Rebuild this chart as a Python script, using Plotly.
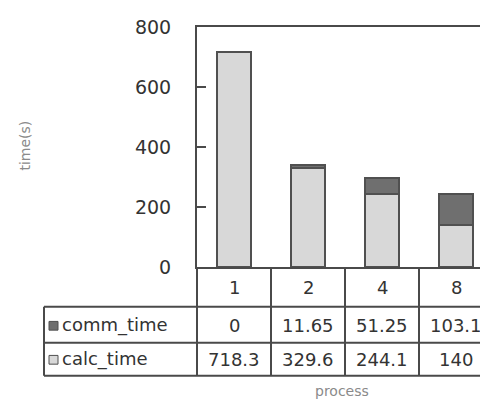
import plotly.graph_objects as go

categories = ["1", "2", "4", "8"]
comm_time = [0, 11.65, 51.25, 103.1]
calc_time = [718.3, 329.6, 244.1, 140]
comm_labels = ["0", "11.65", "51.25", "103.1"]
calc_labels = ["718.3", "329.6", "244.1", "140"]
y_ticks = [0, 200, 400, 600, 800]

W_FIG, H_FIG = 488, 406
OFF = 8  # page body margin
L, T, PW, PH = 197, 20, 291, 247
COLW = 74.0

def px(x):
    return (x - L) / PW

def py(y):
    return (T + PH - y) / PH

LINE = "#4a4a4a"
FONT = "DejaVu Sans"

fig = go.Figure()
fig.add_trace(go.Bar(x=categories, y=calc_time, name="calc_time", width=0.45,
                     marker=dict(color="#d8d8d8", line=dict(color="#505050", width=2))))
fig.add_trace(go.Bar(x=categories, y=comm_time, name="comm_time", width=0.45,
                     marker=dict(color="#6f6f6f", line=dict(color="#505050", width=2))))

shapes = []
rows_y = [308, 345, 379]
for yy in rows_y:
    shapes.append(dict(type="line", xref="paper", yref="paper", x0=px(44), x1=1.1,
                       y0=py(yy), y1=py(yy), line=dict(color=LINE, width=2)))
shapes.append(dict(type="line", xref="paper", yref="paper", x0=0, x1=0,
                   y0=py(267), y1=py(379), line=dict(color=LINE, width=2)))
shapes.append(dict(type="line", xref="paper", yref="paper", x0=px(44), x1=px(44),
                   y0=py(308), y1=py(379), line=dict(color=LINE, width=2)))
for i in range(1, len(categories) + 1):
    shapes.append(dict(type="line", xref="x", yref="paper", x0=i - 0.5, x1=i - 0.5,
                       y0=py(267), y1=py(379), line=dict(color=LINE, width=2)))
shapes.append(dict(type="rect", xref="paper", yref="paper", x0=px(49), x1=px(58),
                   y0=py(332), y1=py(323), fillcolor="#6f6f6f", line=dict(color="#505050", width=1)))
shapes.append(dict(type="rect", xref="paper", yref="paper", x0=px(49), x1=px(58),
                   y0=py(367), y1=py(358), fillcolor="#d8d8d8", line=dict(color="#505050", width=1)))

annotations = []
tf = dict(family=FONT, size=18, color="#333333")
for i, c in enumerate(categories):
    annotations.append(dict(x=i, y=py(288), xref="x", yref="paper", text=c,
                            xanchor="center", yanchor="middle", showarrow=False, font=tf))
    annotations.append(dict(x=i, y=py(327), xref="x", yref="paper", text=comm_labels[i],
                            xanchor="center", yanchor="middle", showarrow=False, font=tf))
    annotations.append(dict(x=i, y=py(362), xref="x", yref="paper", text=calc_labels[i],
                            xanchor="center", yanchor="middle", showarrow=False, font=tf))
annotations.append(dict(x=px(60), y=py(327), xref="paper", yref="paper", text="comm_time",
                        xanchor="left", yanchor="middle", showarrow=False, font=tf))
annotations.append(dict(x=px(60), y=py(362), xref="paper", yref="paper", text="calc_time",
                        xanchor="left", yanchor="middle", showarrow=False, font=tf))
annotations.append(dict(x=px(25), y=py(142), xref="paper", yref="paper", text="time(s)",
                        textangle=-90, xanchor="center", yanchor="middle", showarrow=False,
                        font=dict(family=FONT, size=14, color="#8a8a8a")))
annotations.append(dict(x=px(342), y=py(395), xref="paper", yref="paper", text="process",
                        xanchor="center", yanchor="middle", showarrow=False,
                        font=dict(family=FONT, size=14, color="#8a8a8a")))

fig.update_layout(
    width=W_FIG, height=H_FIG, barmode="stack", showlegend=False,
    margin=dict(l=L - OFF, r=W_FIG - (L - OFF) - PW, t=T - OFF,
                b=H_FIG - (T - OFF) - PH, pad=0),
    plot_bgcolor="white", paper_bgcolor="white",
    shapes=shapes, annotations=annotations,
    xaxis=dict(type="category", range=[-0.5, -0.5 + PW / COLW], showticklabels=False,
               showline=True, mirror=True, linecolor=LINE, linewidth=2, ticks="",
               showgrid=False, zeroline=False, fixedrange=True),
    yaxis=dict(range=[0, 800], tickvals=y_ticks, ticks="inside", ticklen=9,
               tickwidth=2, tickcolor=LINE, showline=True, linecolor=LINE, linewidth=2,
               showgrid=False, zeroline=False, ticklabelstandoff=20,
               tickfont=dict(family=FONT, size=19, color="#333333"), fixedrange=True),
)

fig.write_html("out.html")
